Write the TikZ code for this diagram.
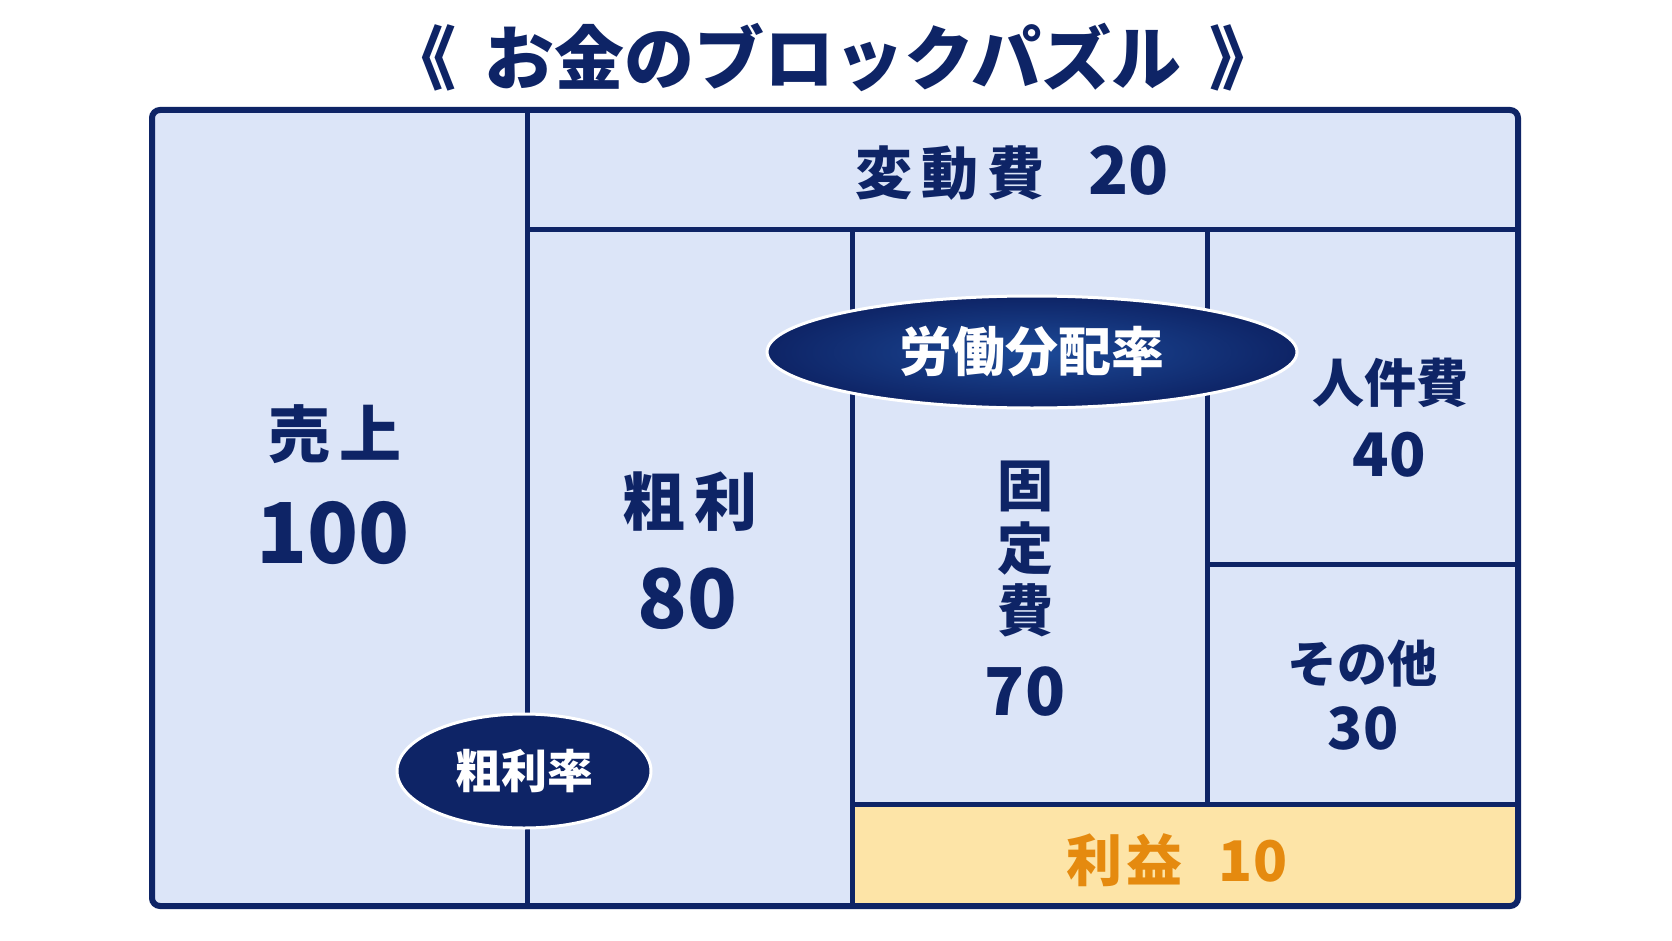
\documentclass[tikz,border=0pt]{standalone}
\usepackage{fontspec}
\setmainfont{Noto Sans CJK JP}
\usetikzlibrary{shapes.geometric}
\definecolor{navy}{HTML}{0E2466}
\definecolor{pale}{HTML}{DCE5F8}
\definecolor{sand}{HTML}{FDE4A7}
\definecolor{amber}{HTML}{E58A0F}
\definecolor{ovalmid}{HTML}{1C4A98}
\newcommand{\fsz}[1]{\fontsize{#1}{#1}\selectfont}
\begin{document}
\begin{tikzpicture}[x=1pt,y=-1pt]
\tikzset{
  frame/.style={draw=navy, line width=6pt, rounded corners=8pt},
  divider/.style={draw=navy, line width=5pt},
  lbl/.style={text=navy, inner sep=0pt, align=center},
  oval/.style={ellipse, draw=white, line width=3pt, text=white, inner sep=0pt,
    inner color=ovalmid, outer color=navy},
}
\path[use as bounding box] (0,0) rectangle (1672,941);
\fill[white] (0,0) rectangle (1672,941);
\fill[pale, rounded corners=8pt] (152,110) rectangle (1518,906);
\fill[sand] (852,804) rectangle (1518,906);
\draw[divider] (527,110) -- (527,906);
\draw[divider] (527,230) -- (1518,230);
\draw[divider] (852,230) -- (852,906);
\draw[divider] (1207,230) -- (1207,804);
\draw[divider] (1207,564) -- (1518,564);
\draw[divider] (852,804) -- (1518,804);
\draw[frame] (152,110) rectangle (1518,906);

\node[lbl, font=\bfseries\fsz{70}] (title) at (833,57) {《\hspace{28pt}お金のブロックパズル\hspace{28pt}》};
\node[lbl, font=\bfseries\fsz{57}] (vc) at (1012,173) {変\hspace{9pt}動\hspace{9pt}費\hspace{44pt}{\fsz{66}20}};
\node[lbl, font=\bfseries\fsz{62}] (sales) at (335,434) {売\hspace{10pt}上};
\node[lbl, font=\bfseries\fsz{84}] (salesv) at (333,533) {100};
\node[lbl, font=\bfseries\fsz{63}] (gp) at (690,502) {粗\hspace{10pt}利};
\node[lbl, font=\bfseries\fsz{82}] (gpv) at (687,599) {80};
\node[lbl, font=\bfseries\fsz{56}] (fc1) at (1025,486) {固};
\node[lbl, font=\bfseries\fsz{56}] (fc2) at (1025,548) {定};
\node[lbl, font=\bfseries\fsz{56}] (fc3) at (1025,610) {費};
\node[lbl, font=\bfseries\fsz{66}] (fcv) at (1025,692) {70};
\node[lbl, font=\bfseries\fsz{52}] (lab) at (1390,383) {人件費};
\node[lbl, font=\bfseries\fsz{60}] (labv) at (1389,455) {40};
\node[lbl, font=\bfseries\fsz{50}] (oth) at (1362,664) {その他};
\node[lbl, font=\bfseries\fsz{58}] (othv) at (1363,728) {30};
\node[lbl, text=amber, font=\bfseries\fsz{56}] (prof) at (1177,860) {利\hspace{4pt}益\hspace{36pt}10};

\node[oval, minimum width=530pt, minimum height=112pt, font=\bfseries\fsz{53}] (lsr) at (1032,352) {労働分配率};
\node[oval, minimum width=254pt, minimum height=114pt, inner color=navy, font=\bfseries\fsz{46}] (gpr) at (524,771) {粗利率};
\end{tikzpicture}
\end{document}
